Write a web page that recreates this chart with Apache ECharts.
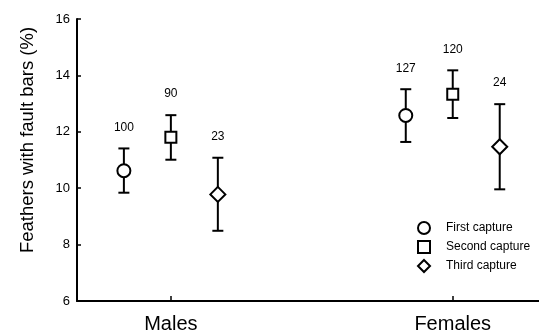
<!DOCTYPE html>
<html>
<head>
<meta charset="utf-8">
<script src="https://cdn.jsdelivr.net/npm/echarts@6/dist/echarts.min.js"></script>
<style>
  html, body { margin: 0; padding: 0; background: #fff; }
  #chart { width: 539px; height: 334px; }
</style>
</head>
<body>
<div id="chart"></div>
<script>
// Groups along the x axis
const groups = ['Males', 'Females'];
// Capture occasions (one marker per group each)
const captures = ['First capture', 'Second capture', 'Third capture'];

// Mean percentage of feathers with fault bars, with error-bar limits and sample sizes
const firstMean  = [10.62, 12.58];
const firstLow   = [9.84, 11.64];
const firstHigh  = [11.41, 13.51];
const firstN     = [100, 127];

const secondMean = [11.81, 13.33];
const secondLow  = [11.01, 12.49];
const secondHigh = [12.59, 14.18];
const secondN    = [90, 120];

const thirdMean  = [9.78, 11.47];
const thirdLow   = [8.49, 9.96];
const thirdHigh  = [11.08, 12.98];
const thirdN     = [23, 24];

const yTicks = [6, 8, 10, 12, 14, 16];

const FONT = 'Liberation Sans, Arial, sans-serif';

const sets = [
  { name: captures[0], mean: firstMean,  low: firstLow,  high: firstHigh,  n: firstN,  symbol: 'circle',  size: 13 },
  { name: captures[1], mean: secondMean, low: secondLow, high: secondHigh, n: secondN, symbol: 'rect',    size: 11 },
  { name: captures[2], mean: thirdMean,  low: thirdLow,  high: thirdHigh,  n: thirdN,  symbol: 'diamond', size: 15 }
];

// horizontal spread of the three captures around each group centre
const spread = 1 / 6;

function errorBarItem(params, api) {
  const x = api.value(0);
  const top = api.coord([x, api.value(2)]);
  const bot = api.coord([x, api.value(1)]);
  const cap = 5.5;
  const stroke = { stroke: '#000', lineWidth: 2 };
  return {
    type: 'group',
    children: [
      { type: 'line', shape: { x1: top[0], y1: top[1], x2: bot[0], y2: bot[1] }, style: stroke },
      { type: 'line', shape: { x1: top[0] - cap, y1: top[1], x2: top[0] + cap, y2: top[1] }, style: stroke },
      { type: 'line', shape: { x1: bot[0] - cap, y1: bot[1], x2: bot[0] + cap, y2: bot[1] }, style: stroke },
      {
        type: 'text', x: top[0], y: top[1] - 21,
        style: {
          text: String(api.value(3)), align: 'center', verticalAlign: 'middle',
          fontSize: 12, fontFamily: FONT, fill: '#000'
        }
      }
    ]
  };
}

const series = [];
sets.forEach((s, k) => {
  const off = (k - 1) * spread;
  series.push({
    name: s.name + ' error',
    type: 'custom',
    renderItem: errorBarItem,
    z: 2,
    silent: true,
    data: groups.map((g, i) => [i + off, s.low[i], s.high[i], s.n[i]])
  });
  series.push({
    name: s.name,
    type: 'scatter',
    symbol: s.symbol,
    symbolSize: s.size,
    z: 3,
    itemStyle: { color: '#fff', borderColor: '#000', borderWidth: 2, opacity: 1 },
    data: groups.map((g, i) => [i + off, s.mean[i]])
  });
});

const chart = echarts.init(document.getElementById('chart'), null, { renderer: 'canvas' });
chart.setOption({
  animation: false,
  backgroundColor: '#fff',
  textStyle: { fontFamily: FONT },
  grid: { left: 77, right: 0, top: 19, bottom: 33, containLabel: false },
  legend: {
    data: captures,
    orient: 'vertical',
    left: 417,
    top: 221,
    padding: 0,
    itemWidth: 12,
    itemHeight: 12,
    itemGap: 5,
    itemStyle: { color: '#fff', borderColor: '#000', borderWidth: 2 },
    textStyle: { fontSize: 12, fontFamily: FONT, color: '#000', padding: [0, 0, 0, 11] }
  },
  xAxis: {
    type: 'value',
    min: -0.333,
    max: 1.306,
    splitLine: { show: false },
    axisLine: { show: true, onZero: false, lineStyle: { color: '#000', width: 2 } },
    axisTick: { show: true, inside: true, length: 5, customValues: [0, 1], lineStyle: { color: '#000', width: 1.5 } },
    axisLabel: {
      customValues: [0, 1],
      formatter: v => groups[Math.round(v)],
      fontSize: 20, fontFamily: FONT, color: '#000', margin: 13
    }
  },
  yAxis: {
    type: 'value',
    min: yTicks[0],
    max: yTicks[yTicks.length - 1],
    interval: 2,
    splitLine: { show: false },
    axisLine: { show: true, onZero: false, lineStyle: { color: '#000', width: 2 } },
    axisTick: { show: true, inside: true, length: 4, lineStyle: { color: '#000', width: 1.5 } },
    axisLabel: { fontSize: 13, fontFamily: FONT, color: '#000', margin: 7 },
    name: 'Feathers with fault bars (%)',
    nameLocation: 'middle',
    nameGap: 40,
    nameTextStyle: { fontSize: 18.5, fontFamily: FONT, color: '#000', padding: [0, 0, 0, 40] }
  },
  series: series
});
</script>
</body>
</html>
